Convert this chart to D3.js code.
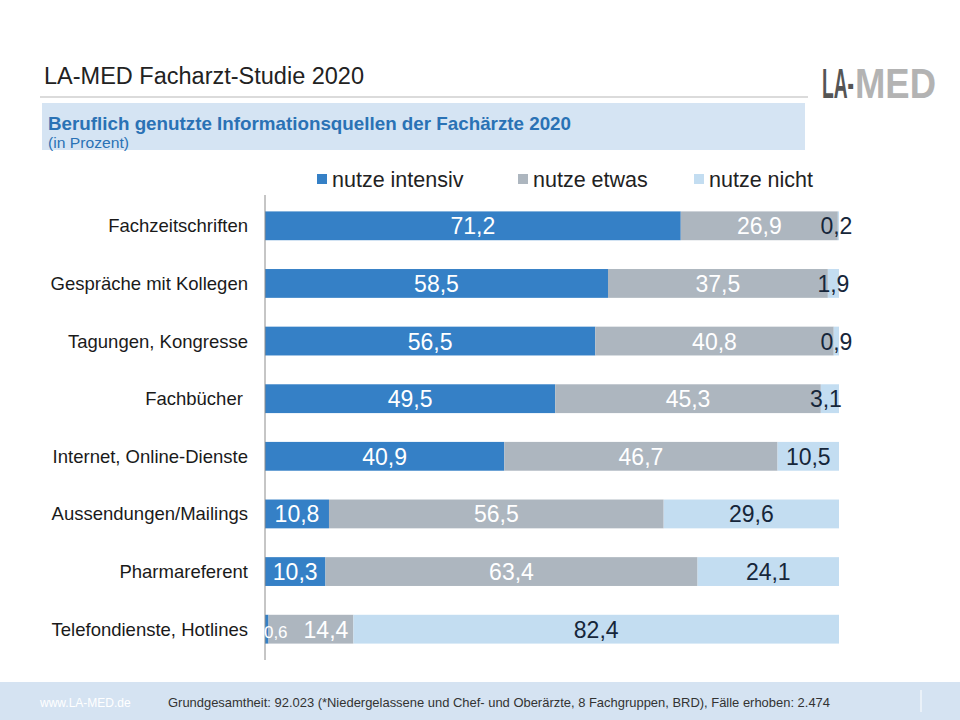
<!DOCTYPE html>
<html>
<head>
<meta charset="utf-8">
<script src="https://cdn.jsdelivr.net/npm/d3@7"></script>
<style>
  body { margin: 0; background: #fff; }
  text { font-family: "Liberation Sans", Arial, sans-serif; }
</style>
</head>
<body>
<div id="container"></div>
<script>
/* DATA */
const categories = ["Fachzeitschriften", "Gespräche mit Kollegen", "Tagungen, Kongresse", "Fachbücher ",
                    "Internet, Online-Dienste", "Aussendungen/Mailings", "Pharmareferent", "Telefondienste, Hotlines"];
const seriesNames = ["nutze intensiv", "nutze etwas", "nutze nicht"];
const intensiv = [71.2, 58.5, 56.5, 49.5, 40.9, 10.8, 10.3, 0.6];
const etwas    = [26.9, 37.5, 40.8, 45.3, 46.7, 56.5, 63.4, 14.4];
const nicht    = [0.2, 1.9, 0.9, 3.1, 10.5, 29.6, 24.1, 82.4];

/* CONSTANTS */
const width = 960, height = 720;
const colors = ["#3580c6", "#adb6bf", "#c3ddf1"];
const labelColors = ["#ffffff", "#ffffff", "#16263a"];
// label nudges where PowerPoint shifted overlapping labels
const nudge = { "7-0": 9, "7-1": 15, "0-2": -2, "3-2": -4 };

const svg = d3.select("#container")
              .append("svg")
              .attr("width", width)
              .attr("height", height);

/* HEADER */
svg.append("text")
   .attr("x", 44).attr("y", 84)
   .attr("font-size", 23.5).attr("fill", "#222")
   .text("LA-MED Facharzt-Studie 2020");

svg.append("line")
   .attr("x1", 40).attr("x2", 808).attr("y1", 97).attr("y2", 97)
   .attr("stroke", "#cfcfcf").attr("stroke-width", 1.5);

// logo: squeeze each part to its width in the reference
function logoPart(str, x, w, fill) {
  const g = svg.append("g");
  const t = g.append("text")
     .attr("font-size", 42).attr("font-weight", "bold").attr("fill", fill)
     .text(str);
  const natural = t.node().getComputedTextLength();
  g.attr("transform", `translate(${x},98) scale(${w / natural},1)`);
}
logoPart("LA-", 822, 32, "#555");
logoPart("MED", 855, 81, "#b3b3b3");

svg.append("rect")
   .attr("x", 42).attr("y", 103).attr("width", 763).attr("height", 47)
   .attr("fill", "#d5e4f3");

svg.append("text")
   .attr("x", 48).attr("y", 130)
   .attr("font-size", 18.5).attr("font-weight", "bold")
   .attr("fill", "#2a72b5")
   .attr("textLength", 523).attr("lengthAdjust", "spacingAndGlyphs")
   .text("Beruflich genutzte Informationsquellen der Fachärzte 2020");

svg.append("text")
   .attr("x", 48).attr("y", 148)
   .attr("font-size", 15).attr("fill", "#2a72b5")
   .attr("textLength", 81).attr("lengthAdjust", "spacingAndGlyphs")
   .text("(in Prozent)");

/* LEGEND */
const legendX = [317, 518, 694];
const legend = svg.selectAll("g.legend")
   .data(seriesNames)
   .join("g")
   .attr("class", "legend")
   .attr("transform", (d, i) => `translate(${legendX[i]},179)`);

legend.append("rect")
   .attr("x", 0).attr("y", -5).attr("width", 10).attr("height", 10)
   .attr("fill", (d, i) => colors[i]);

legend.append("text")
   .attr("x", 15).attr("y", 7.5)
   .attr("font-size", 21.5).attr("fill", "#222")
   .text(d => d);

/* SCALES */
const xScale = d3.scaleLinear()
                 .domain([0, 100])
                 .range([265, 839]);

const yScale = d3.scaleBand()
                 .domain(categories)
                 .range([197, 658])
                 .paddingInner(0.5)
                 .paddingOuter(0.25);

/* STACK (100 % normalised) */
const rows = categories.map((c, i) => ({
  cat: c, intensiv: intensiv[i], etwas: etwas[i], nicht: nicht[i]
}));
const stack = d3.stack()
                .keys(["intensiv", "etwas", "nicht"])
                .offset(d3.stackOffsetExpand);
const series = stack(rows);

const layers = svg.selectAll("g.layer")
   .data(series)
   .join("g")
   .attr("class", "layer")
   .attr("fill", (d, i) => colors[i]);

layers.selectAll("rect")
   .data(d => d)
   .join("rect")
   .attr("x", d => xScale(d[0] * 100))
   .attr("y", d => yScale(d.data.cat))
   .attr("width", d => xScale(d[1] * 100) - xScale(d[0] * 100))
   .attr("height", yScale.bandwidth());

/* AXIS */
const yAxis = d3.axisLeft(yScale).tickSize(0).tickPadding(17);
const axisG = svg.append("g")
   .attr("transform", `translate(${xScale(0)},0)`)
   .call(yAxis);
axisG.select(".domain")
   .attr("stroke", "#8c8c8c")
   .attr("d", `M0,${yScale.range()[0] - 2}V${yScale.range()[1] + 2}`);
axisG.selectAll(".tick text")
   .attr("font-size", 18.5)
   .attr("fill", "#1a1a1a")
   .attr("dy", "0.35em")
   .style("font-family", "Liberation Sans, Arial, sans-serif")
   .style("white-space", "pre");

/* LABELS */
const fmt = v => String(v.toFixed(1)).replace(".", ",");
const values = [intensiv, etwas, nicht];
series.forEach((s, si) => {
  svg.append("g")
     .selectAll("text")
     .data(s)
     .join("text")
     .attr("x", (d, i) => (xScale(d[0] * 100) + xScale(d[1] * 100)) / 2 + (nudge[`${i}-${si}`] || 0))
     .attr("y", d => yScale(d.data.cat) + yScale.bandwidth() / 2 + 8.5)
     .attr("text-anchor", "middle")
     .attr("font-size", (d, i) => values[si][i] < 1 && si === 0 ? 17 : 23)
     .attr("fill", labelColors[si])
     .text((d, i) => fmt(values[si][i]));
});

/* FOOTER */
svg.append("rect")
   .attr("x", 0).attr("y", 682).attr("width", width).attr("height", 38)
   .attr("fill", "#d5e3f2");

svg.append("text")
   .attr("x", 40).attr("y", 707)
   .attr("font-size", 12).attr("fill", "#ffffff")
   .text("www.LA-MED.de");

svg.append("text")
   .attr("x", 168).attr("y", 707)
   .attr("font-size", 13).attr("fill", "#333")
   .attr("textLength", 662).attr("lengthAdjust", "spacingAndGlyphs")
   .text("Grundgesamtheit: 92.023 (*Niedergelassene und Chef- und Oberärzte, 8 Fachgruppen, BRD), Fälle erhoben: 2.474");

svg.append("line")
   .attr("x1", 921).attr("x2", 921).attr("y1", 690).attr("y2", 712)
   .attr("stroke", "#ffffff").attr("stroke-width", 1);
</script>
</body>
</html>
